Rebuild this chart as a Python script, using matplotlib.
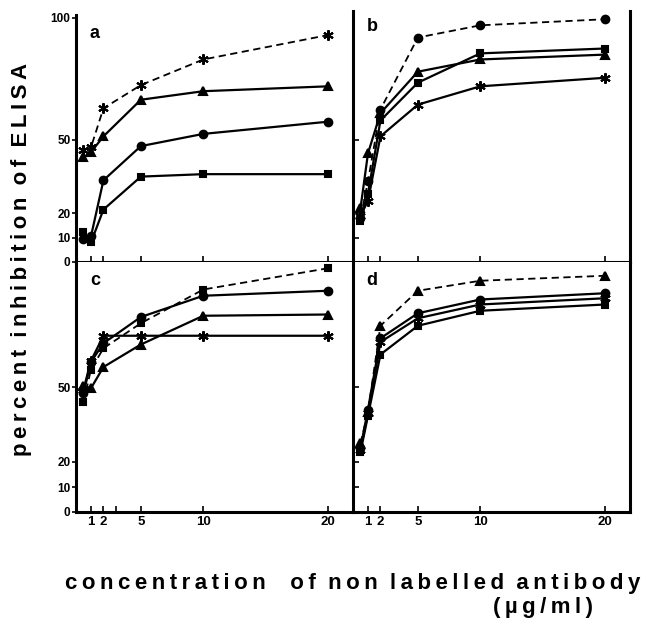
import matplotlib
matplotlib.use("Agg")
import matplotlib.pyplot as plt

# concentration of non labelled antibody (ug/ml), same for every curve
CONC = [0.4, 1, 2, 5, 10, 20]
X_TICKS = [1, 2, 5, 10, 20]
Y_TICKS = [0, 10, 20, 50, 100]

# percent inhibition
A_STAR = [46, 47, 63, 72.5, 83, 93]
A_TRI = [43, 45, 51.5, 66.5, 70, 72]
A_CIRC = [9.5, 10.5, 33.5, 47.5, 52.5, 57.5]
A_SQ = [12.5, 8, 21.5, 35, 36, 36]

B_CIRC = [18, 33, 62.5, 92, 97, 99.5]
B_SQ = [17, 28, 58, 73.5, 85.5, 87.5]
B_TRI = [22, 44.5, 61, 78, 83, 85]
B_STAR = [19, 25, 51.5, 64.5, 72, 75.5]

C_SQ = [44, 57, 65.5, 75.5, 89, 97.5]
C_CIRC = [47.5, 60, 67.5, 78, 86.5, 88.5]
C_TRI = [50.5, 49.5, 58, 67, 78.5, 79]
C_STAR = [49, 60.5, 70.5, 70.5, 70.5, 70.5]

D_TRI = [27.5, 40, 74.5, 88.5, 92.5, 94.5]
D_CIRC = [25.5, 41, 69.5, 79.5, 85, 87.5]
D_STAR = [25, 39.5, 68, 77.5, 83, 85.5]
D_SQ = [24, 38.5, 63, 74.5, 80.5, 83]

# first entry of each panel is the dashed curve
PANELS = {
    "a": [("star", A_STAR), ("tri", A_TRI), ("circ", A_CIRC), ("sq", A_SQ)],
    "b": [("circ", B_CIRC), ("sq", B_SQ), ("tri", B_TRI), ("star", B_STAR)],
    "c": [("sq", C_SQ), ("circ", C_CIRC), ("tri", C_TRI), ("star", C_STAR)],
    "d": [("tri", D_TRI), ("circ", D_CIRC), ("star", D_STAR), ("sq", D_SQ)],
}

MARKERS = {"star": ((6, 2, 0), 7.5), "tri": ("^", 6), "circ": ("o", 5.5), "sq": ("s", 5)}

plt.rcParams["font.family"] = ["Liberation Sans", "DejaVu Sans"]
plt.rcParams["font.weight"] = "bold"

THIN = "\u2009"


def tracked(words, gap=THIN, word_gap="  "):
    return word_gap.join(gap.join(w) for w in words)


W, H = 645, 623
fig = plt.figure(figsize=(W / 100, H / 100), dpi=100)

# pixel boxes of the four panels: left, top, right, bottom
BOXES = {
    "a": (76, 15, 353, 262),
    "b": (353, 11, 630, 262),
    "c": (76, 262, 353, 512),
    "d": (353, 262, 630, 512),
}

for key, (l, t, r, b) in BOXES.items():
    ax = fig.add_axes([l / W, 1 - b / H, (r - l) / W, (b - t) / H])
    top_row = key in "ab"
    left_col = key in "ac"
    ax.set_xlim(-0.2, 22.0)
    ytop = (b - t) / (2.44 if top_row else 2.5)
    ax.set_ylim(0, ytop)

    for i, (kind, vals) in enumerate(PANELS[key]):
        m, ms = MARKERS[kind]
        dashed = i == 0
        ax.plot(CONC, vals, color="black",
                lw=1.3 if dashed else 1.6,
                ls=(0, (4, 2.5)) if dashed else "-",
                marker=m, ms=ms, mew=1.5, mfc="black", mec="black",
                clip_on=False, zorder=3 if dashed else 2)

    for side in ("top", "right", "left", "bottom"):
        ax.spines[side].set_linewidth(2.2)
    ax.spines["top"].set_visible(False)
    ax.spines["right"].set_visible(not left_col)

    ax.set_xticks(X_TICKS + ([3] if key == "c" else []))
    ax.tick_params(axis="x", direction="in", length=4, width=1.2, pad=3,
                   labelsize=9.5, labelbottom=not top_row)
    if not top_row:
        ax.set_xticklabels([str(v) for v in X_TICKS] + ([""] if key == "c" else []),
                           fontweight="bold")

    if left_col:
        yt = Y_TICKS if top_row else Y_TICKS[:-1]
        ax.set_yticks(yt)
        ax.set_yticklabels([str(v) for v in yt], fontweight="bold")
        ax.tick_params(axis="y", direction="out", length=3, width=1.2, pad=1,
                       labelsize=8.5)
    else:
        ax.set_yticks([10, 20, 50])
        ax.tick_params(axis="y", direction="in", length=4, width=1.2,
                       labelleft=False)

    ax.text(0.068, 0.94 if key == "b" else 0.925, key, transform=ax.transAxes,
            fontsize=13, fontweight="bold", ha="center", va="center")

fig.text(22 / W, 1 - 259 / H, tracked(["percent", "inhibition", "of", "ELISA"]),
         rotation=90, fontsize=16, fontweight="bold", ha="center", va="center")
fig.text(353 / W, 1 - 583 / H,
         tracked(["concentration"]) + "    " + tracked(["of", "non", "labelled", "antibody"]),
         fontsize=16, fontweight="bold", ha="center", va="center")
fig.text(543 / W, 1 - 608 / H, tracked(["(µg/ml)"]),
         fontsize=16, fontweight="bold", ha="center", va="center")

fig.savefig("out.png", dpi=100, facecolor="white")
